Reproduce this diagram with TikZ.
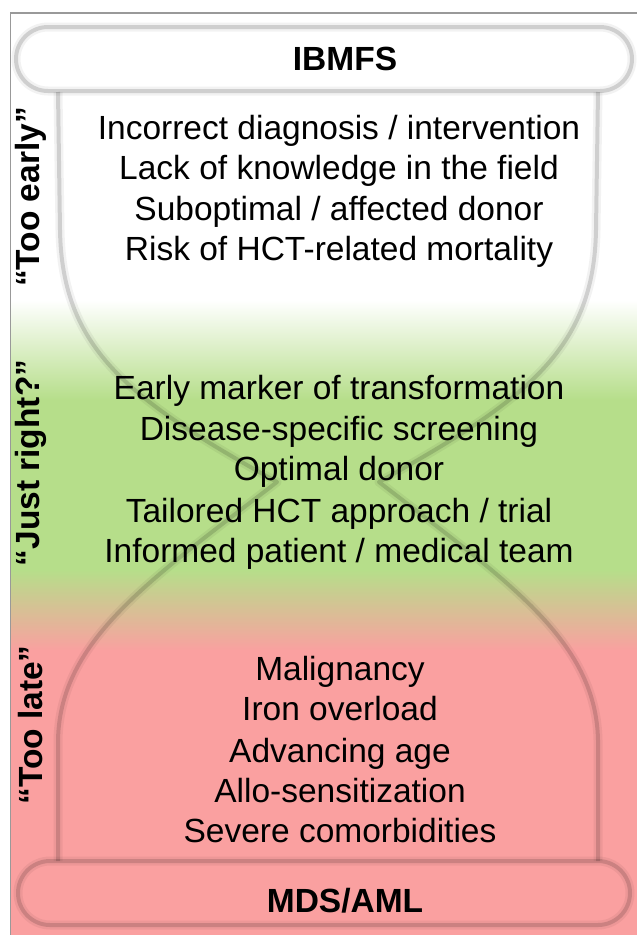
\documentclass[tikz,border=0pt]{standalone}
\usepackage{fontspec}
\setmainfont{Liberation Sans}

\definecolor{justgreen}{RGB}{182,222,138}
\definecolor{latered}{RGB}{250,160,160}

\tikzset{
  glass/.style={draw=black, line width=4pt, opacity=0.14, line join=round},
  glassglow/.style={draw=black, line width=9pt, opacity=0.05, line join=round},
  item/.style={font=\fontsize{33.5}{40}\selectfont, anchor=base},
  phase/.style={font=\fontsize{33.5}{40}\selectfont\bfseries, rotate=90},
  endlabel/.style={font=\fontsize{33.5}{40}\selectfont\bfseries, anchor=base}
}

\begin{document}
\begin{tikzpicture}[x=1pt,y=-1pt]
    \useasboundingbox (0,0) rectangle (637,935);

    % Background bands
    \fill[white] (0,0) rectangle (637,935);
    \fill[justgreen] (10,399) rectangle (637,571);
    \shade[top color=white, bottom color=justgreen] (10,300) rectangle (637,400);
    \shade[top color=justgreen, bottom color=latered] (10,570) rectangle (637,651);
    \fill[latered] (10,650) rectangle (637,935);

    % Frame
    \draw[black!40, line width=1.5pt] (10.5,935) -- (10.5,13) -- (637,13);

    % Hourglass outline
    \foreach \sty in {glassglow, glass} {
        \draw[\sty] (58,92) -- (60,230) .. controls (62,350) and (130,400) .. (277,482)
            .. controls (150,580) and (60,640) .. (58,740) -- (58,861);
        \draw[\sty] (598,92) -- (596,230) .. controls (594,350) and (526,400) .. (379,482)
            .. controls (506,580) and (596,640) .. (598,740) -- (598,861);
        \draw[\sty, rounded corners=32pt] (16,27) rectangle (632,91);
        \draw[\sty, rounded corners=32pt] (18,861) rectangle (630,925);
    }

    % End points
    \node[endlabel] (ibmfs) at (345,70) {IBMFS};
    \node[endlabel] (mdsaml) at (345,912) {MDS/AML};

    % Phase labels
    \node[phase] (early) at (31,197) {“Too early”};
    \node[phase] (right) at (31,463) {“Just right?”};
    \node[phase] (late) at (31,725) {“Too late”};

    % Too early
    \node[item] (e1) at (339,139) {Incorrect diagnosis / intervention};
    \node[item] (e2) at (339,179) {Lack of knowledge in the field};
    \node[item] (e3) at (339,220) {Suboptimal / affected donor};
    \node[item] (e4) at (339,260) {Risk of HCT-related mortality};

    % Just right
    \node[item] (r1) at (339,399) {Early marker of transformation};
    \node[item] (r2) at (339,440) {Disease-specific screening};
    \node[item] (r3) at (339,480) {Optimal donor};
    \node[item] (r4) at (339,522) {Tailored HCT approach / trial};
    \node[item] (r5) at (339,562) {Informed patient / medical team};

    % Too late
    \node[item] (l1) at (340,680) {Malignancy};
    \node[item] (l2) at (340,720) {Iron overload};
    \node[item] (l3) at (340,762) {Advancing age};
    \node[item] (l4) at (340,802) {Allo-sensitization};
    \node[item] (l5) at (340,842) {Severe comorbidities};
\end{tikzpicture}
\end{document}
